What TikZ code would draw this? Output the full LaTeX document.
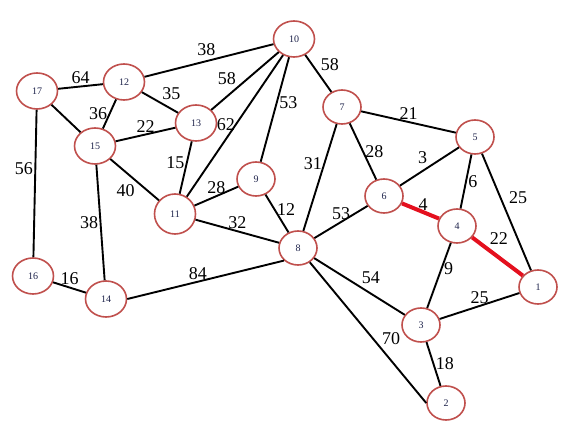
\documentclass[tikz,border=0pt]{standalone}
\usepackage{fontspec}
\setmainfont{Liberation Serif}
\usepackage{tikz}
\usetikzlibrary{arrows.meta,positioning,shapes}
\usepackage{xcolor}
\definecolor{bordevert}{RGB}{192,80,77}
\definecolor{textovert}{RGB}{30,35,75}
\definecolor{rojocamino}{RGB}{228,16,30}

\begin{document}
\begin{tikzpicture}[x=1pt, y=-1pt, line width=1.9pt,
  vert/.style={ellipse, draw=bordevert, line width=1.6pt, fill=white, text=textovert,
    minimum width=38pt, minimum height=34pt, inner sep=0pt, font=\fontsize{10}{10}\selectfont},
  grande/.style={minimum width=41pt, minimum height=36pt},
  peso/.style={font=\fontsize{18}{18}\selectfont, inner sep=1.5pt},
  camino/.style={rojocamino, line width=4pt}]
  \useasboundingbox (0,0) rectangle (567,427);

  % Nodos
  \node[vert, grande] (v10) at (294,39) {10};
  \node[vert, grande] (v17) at (37,91) {17};
  \node[vert, grande] (v12) at (124,82) {12};
  \node[vert, grande] (v13) at (196,123) {13};
  \node[vert, grande] (v15) at (95,146) {15};
  \node[vert] (v7) at (342,107) {7};
  \node[vert] (v5) at (475,137) {5};
  \node[vert] (v9) at (256,179) {9};
  \node[vert] (v6) at (384,196) {6};
  \node[vert] (v4) at (457,226) {4};
  \node[vert, grande, minimum height=40pt] (v11) at (175,214) {11};
  \node[vert] (v8) at (298,248) {8};
  \node[vert, grande] (v16) at (33,276) {16};
  \node[vert, grande] (v14) at (106,299) {14};
  \node[vert] (v1) at (538,287) {1};
  \node[vert] (v3) at (421,325) {3};
  \node[vert] (v2) at (446,403) {2};

  % Aristas
  \draw (v10) -- node[peso, above=3pt, pos=0.52] {38} (v12);
  \draw (v17) -- node[peso, above] {64} (v12);
  \draw (v12) -- node[peso, left] {36} (v15);
  \draw (v17) -- (v15);
  \draw (v12) -- node[peso, above right] {35} (v13);
  \draw (v10) -- node[peso, above left, pos=0.6] {58} (v13);
  \draw (v15) -- node[peso, above] {22} (v13);
  \draw (v10) -- node[peso, left, inner sep=0pt, pos=0.49] {62} (v11);
  \draw (v10) -- node[peso, right, pos=0.43] {53} (v9);
  \draw (v10) -- node[peso, above right] {58} (v7);
  \draw (v13) -- node[peso, left, pos=0.4] {15} (v11);
  \draw (v15) -- node[peso, below left, pos=0.55] {40} (v11);
  \draw (v17) -- node[peso, left, pos=0.4] {56} (v16);
  \draw (v15) -- node[peso, left] {38} (v14);
  \draw (v16) -- node[peso, above] {16} (v14);
  \draw (v14.east) -- node[peso, above, pos=0.45] {84} (v8.south west);
  \draw (v11) -- node[peso, above] {28} (v9);
  \draw (v11) -- node[peso, above] {32} (v8);
  \draw (v9) -- node[peso, right, pos=0.4] {12} (v8);
  \draw (v7) -- node[peso, left, pos=0.37] {31} (v8);
  \draw (v7) -- node[peso, right] {28} (v6);
  \draw (v7) -- node[peso, above] {21} (v5);
  \draw (v5) -- node[peso, above left] {3} (v6);
  \draw (v5) -- node[peso, right] {6} (v4);
  \draw (v5) -- node[peso, right=6pt, pos=0.38] {25} (v1);
  \draw (v6) -- node[peso, above] {53} (v8);
  \draw (v4) -- node[peso, right, pos=0.39] {9} (v3);
  \draw (v3) -- node[peso, above] {25} (v1);
  \draw (v8) -- node[peso, above right] {54} (v3);
  \draw (v8) -- node[peso, above right, pos=0.6] {70} (v2.west);
  \draw (v3) -- node[peso, right] {18} (v2);

  % Camino
  \draw[camino] (v6) -- node[peso, above, black, inner sep=0pt, pos=0.57] {4} (v4);
  \draw[camino] (v4) -- node[peso, anchor=south west, black, pos=0.28] {22} (v1);
\end{tikzpicture}
\end{document}
